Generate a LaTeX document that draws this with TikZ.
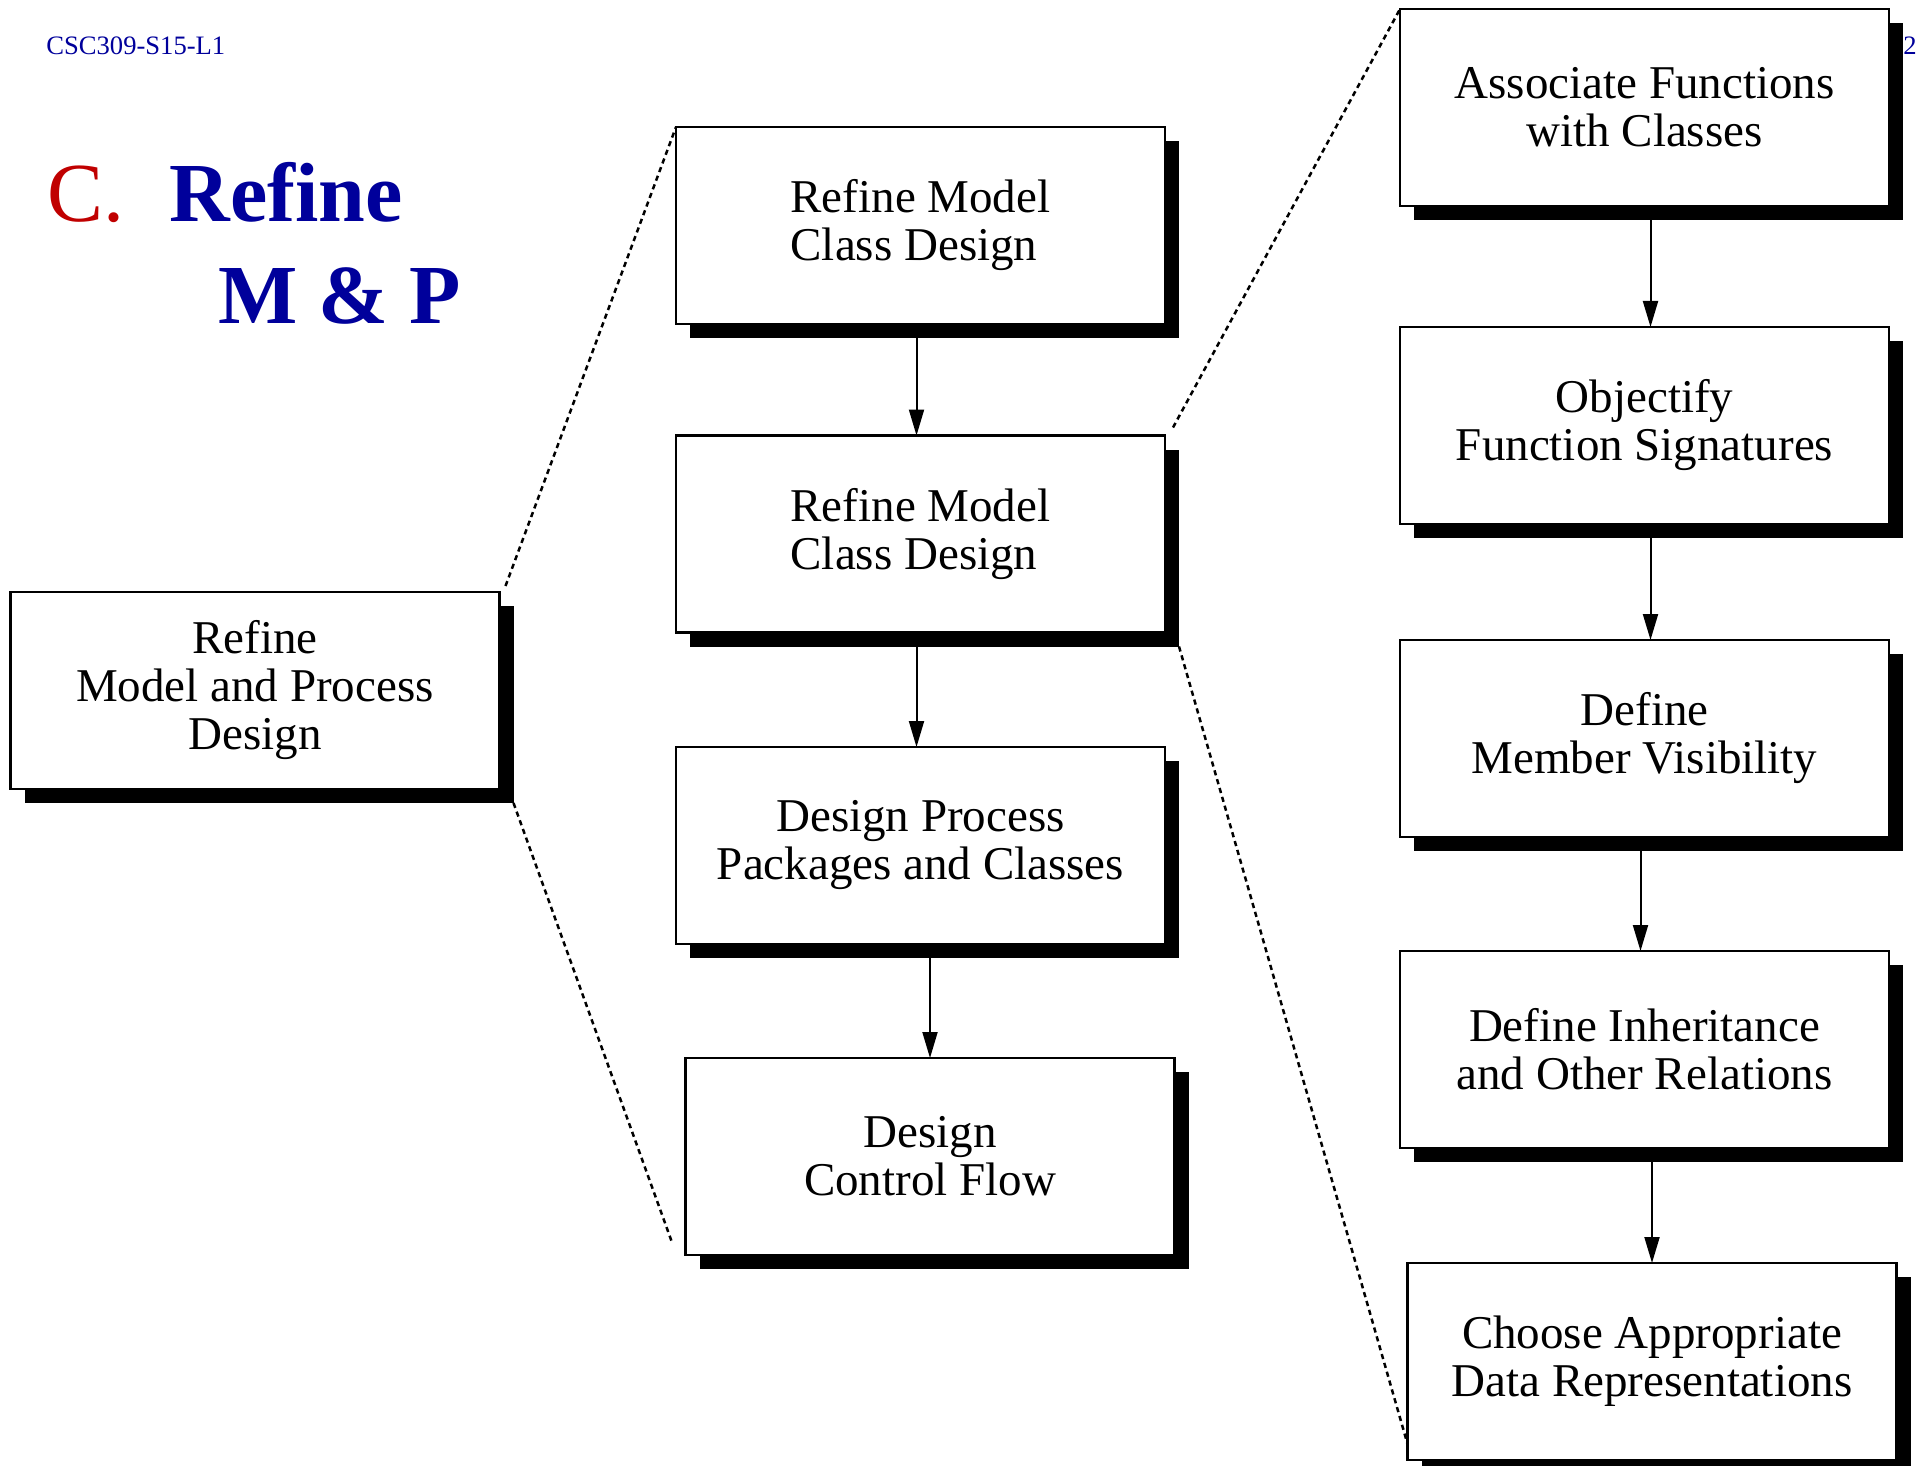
\documentclass[tikz,border=0pt]{standalone}
\usepackage{fontspec}
\setmainfont{Liberation Serif}
\usepackage{tikz}
\usetikzlibrary{arrows.meta,positioning,calc,shadows}
\usepackage{xcolor}
\definecolor{slideblue}{RGB}{0,0,155}
\definecolor{slidered}{RGB}{192,0,0}
\tikzset{
  stepbox/.style={draw=black,line width=1.1pt,fill=white,rectangle,
    minimum width=244.5pt,minimum height=98.5pt,inner sep=0pt,outer sep=0pt,
    align=center,font=\fontsize{23.5}{24}\selectfont,
    drop shadow={shadow xshift=7pt,shadow yshift=-7pt,fill=black,opacity=1}},
  flow/.style={line width=1pt,-{Triangle[length=13pt,width=7.5pt]}},
  zoomline/.style={line width=1.25pt,dash pattern=on 2.6pt off 2pt},
  slidetext/.style={anchor=base west,inner sep=0pt}
}

\begin{document}
\begin{tikzpicture}[x=0.5pt,y=-0.5pt]
  \useasboundingbox (0,0) rectangle (1927,1466);
  % header and title
  \node[slidetext,font=\fontsize{13.3}{14}\selectfont,text=slideblue] (hdr) at (46,55) {CSC309-S15-L1};
  \node[slidetext,font=\fontsize{13.3}{14}\selectfont,text=slideblue] (pageno) at (1903,55) {2};
  \node[slidetext,font=\fontsize{42}{42}\selectfont,text=slidered] (sec) at (47,222) {C.};
  \node[slidetext,font=\fontsize{42}{42}\selectfont\bfseries,text=slideblue] (ttla) at (169,222) {Refine};
  \node[slidetext,font=\fontsize{42}{42}\selectfont\bfseries,text=slideblue] (ttlb) at (218,323) {M \& P};

  % level 0
  \node[stepbox] (lb) at (255,690.5) {Refine\\Model and Process\\Design};

  % level 1
  \node[stepbox,align=left] (mb1) at (920.5,225.5) {Refine Model\\Class Design};
  \node[stepbox,align=left] (mb2) at (920.5,534) {Refine Model\\Class Design};
  \node[stepbox] (mb3) at (920.5,845.5) {Design Process\\Packages and Classes};
  \node[stepbox] (mb4) at (930,1156.5) {Design\\Control Flow};

  % level 2
  \node[stepbox] (rb1) at (1644.5,107.5) {Associate Functions\\with Classes};
  \node[stepbox] (rb2) at (1644.5,425.5) {Objectify\\Function Signatures};
  \node[stepbox] (rb3) at (1644.5,738.5) {Define\\Member Visibility};
  \node[stepbox] (rb4) at (1644.5,1049.5) {Define Inheritance\\and Other Relations};
  \node[stepbox] (rb5) at (1652,1361.5) {Choose Appropriate\\Data Representations};

  % flow arrows
  \draw[flow] ([xshift=-2pt,yshift=-7pt]mb1.south) -- ([xshift=-2pt]mb2.north);
  \draw[flow] ([xshift=-2pt,yshift=-7pt]mb2.south) -- ([xshift=-2pt]mb3.north);
  \draw[flow] ([yshift=-7pt]mb3.south -| mb4.north) -- (mb4.north);
  \draw[flow] ([xshift=3pt,yshift=-7pt]rb1.south) -- ([xshift=3pt]rb2.north);
  \draw[flow] ([xshift=3pt,yshift=-7pt]rb2.south) -- ([xshift=3pt]rb3.north);
  \draw[flow] ([xshift=-2pt,yshift=-7pt]rb3.south) -- ([xshift=-2pt]rb4.north);
  \draw[flow] ([yshift=-7pt]rb4.south -| rb5.north) -- (rb5.north);

  % zoom lines
  \draw[zoomline] ([shift={(3pt,3pt)}]lb.north east) -- (mb1.north west);
  \draw[zoomline] ([shift={(7pt,-7pt)}]lb.south east) -- ([shift={(-7pt,7pt)}]mb4.south west);
  \draw[zoomline] ([shift={(4pt,4pt)}]mb2.north east) -- (rb1.north west);
  \draw[zoomline] ([shift={(7pt,-7pt)}]mb2.south east) -- ([yshift=8pt]rb5.south west);
\end{tikzpicture}
\end{document}
